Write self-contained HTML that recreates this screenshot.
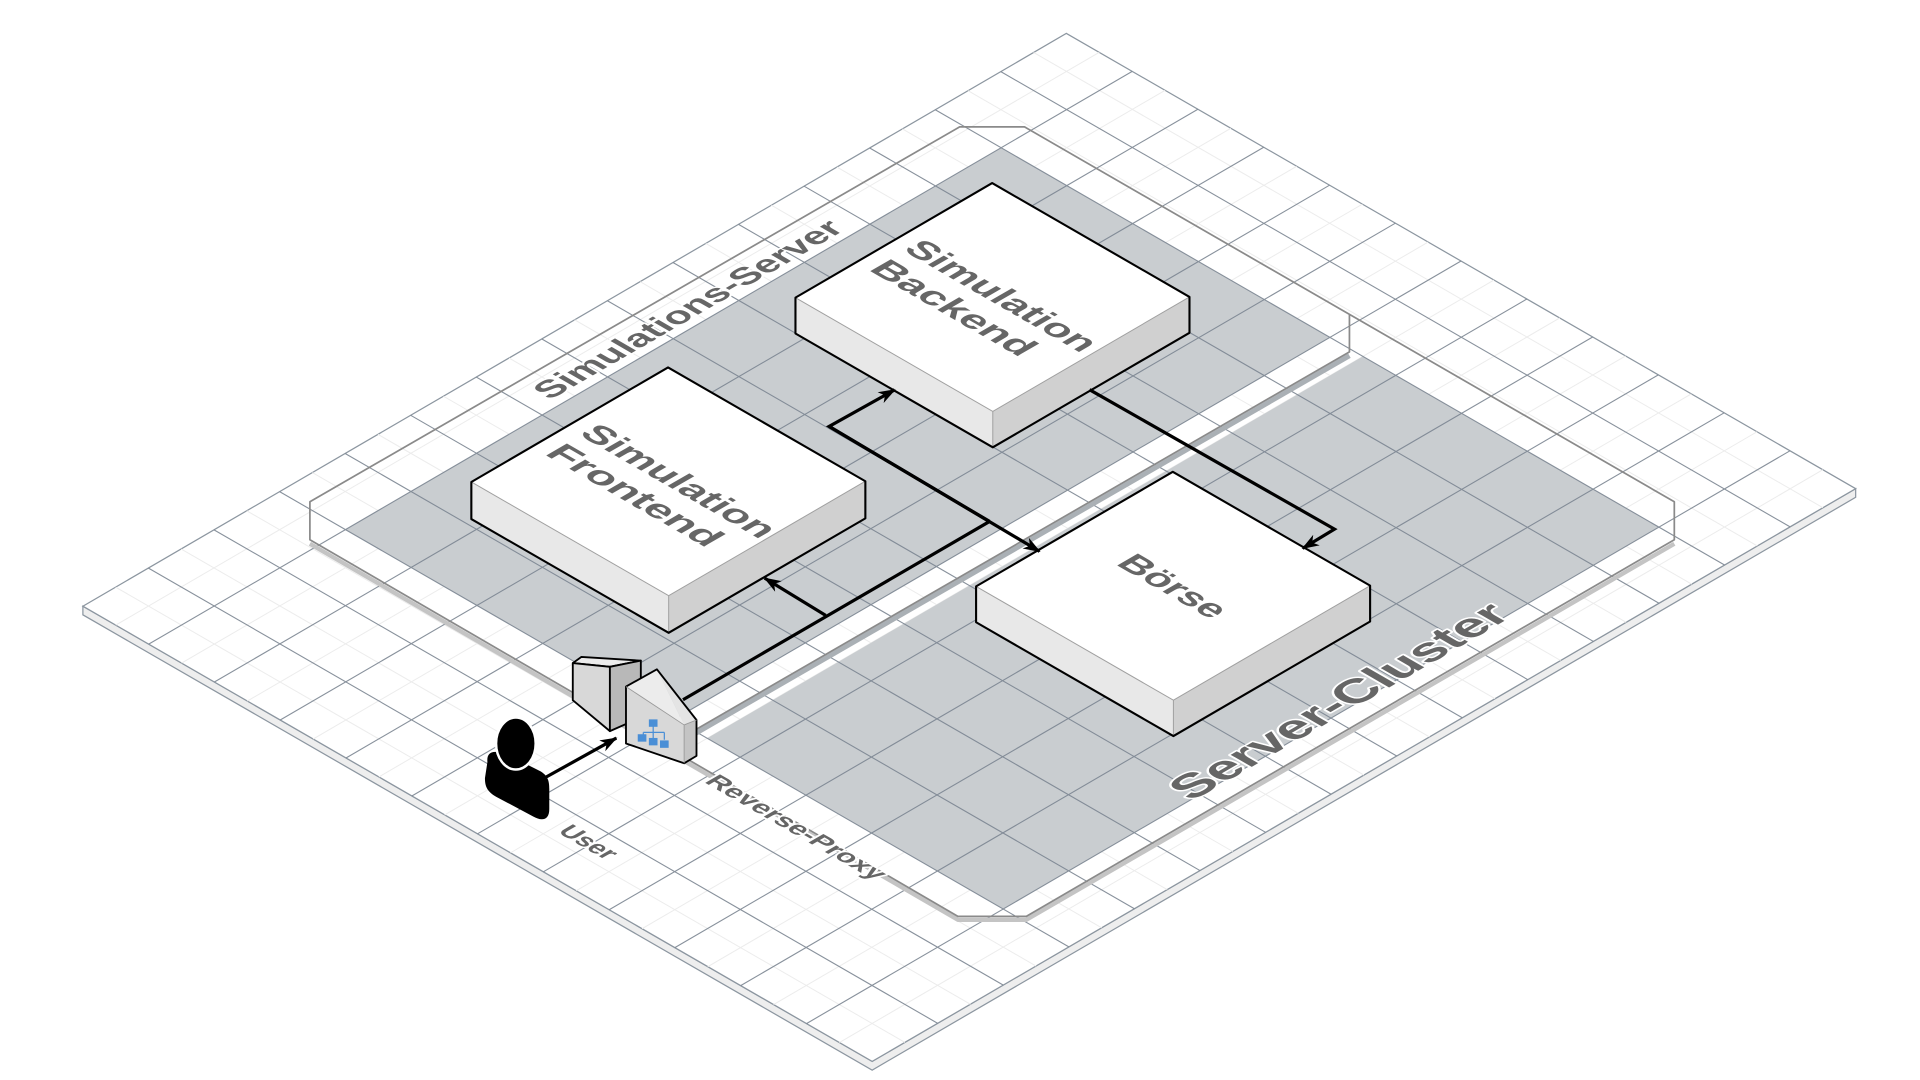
<!DOCTYPE html>
<html><head><meta charset="utf-8"><style>html,body{margin:0;padding:0;background:#fff;overflow:hidden}svg{display:block}
.t{font-family:"Liberation Sans",sans-serif;font-weight:bold;fill:#666;paint-order:stroke;stroke:#fff;stroke-width:3px;stroke-linejoin:round}
.tb{font-family:"Liberation Sans",sans-serif;font-weight:bold;fill:#666}
</style></head><body>
<svg width="1920" height="1080" viewBox="0 0 1552 873" preserveAspectRatio="none" xmlns="http://www.w3.org/2000/svg">
<defs>
<marker id="ah" viewBox="0 0 14 10" refX="13" refY="5" markerWidth="14" markerHeight="10" markerUnits="userSpaceOnUse" orient="auto">
<path d="M0,0 L14,5 L0,10 L4,5 Z" fill="#000"/></marker>
</defs>
<!-- platform -->
<polygon points="67,490 67,497 705,865 1500,402 1500,395 705,858" fill="#eeeeee" stroke="#8c96a0" stroke-width="1"/>
<polygon points="862,27 1500,395 705,858 67,490" fill="#ffffff" stroke="#8c96a0" stroke-width="1"/>
<!-- minor grid -->
<g stroke="#ececec" stroke-width="0.8" fill="none">
<path d="M888.6,42.3 l-795,463 M941.8,73 l-795,463 M994.9,103.7 l-795,463 M1048.1,134.4 l-795,463 M1101.3,165 l-795,463 M1154.4,195.7 l-795,463 M1207.6,226.4 l-795,463 M1260.8,257 l-795,463 M1314,287.7 l-795,463 M1367.1,318.4 l-795,463 M1420.3,349 l-795,463 M1473.5,379.7 l-795,463"/>
<path d="M835.5,42.4 l638,368 M782.5,73.3 l638,368 M729.5,104.2 l638,368 M676.5,135 l638,368 M623.5,165.9 l638,368 M570.5,196.8 l638,368 M517.5,227.7 l638,368 M464.5,258.5 l638,368 M411.5,289.4 l638,368 M358.5,320.3 l638,368 M305.5,351.1 l638,368 M252.5,382 l638,368 M199.5,412.9 l638,368 M146.5,443.8 l638,368 M93.5,474.6 l638,368"/>
</g>
<!-- gray floors -->
<polygon points="809.2,119.4 1075,272.8 545,581.5 279.2,428.1" fill="#c9cdd0"/>
<polygon points="1101.6,288.1 1340.9,426.1 810.9,734.8 571.6,596.8" fill="#c9cdd0"/>
<!-- major grid -->
<g stroke="#7c8692" stroke-width="0.9" fill="none" opacity="0.9">
<path d="M915.2,57.7 l-795,463 M968.3,88.3 l-795,463 M1021.5,119 l-795,463 M1074.7,149.7 l-795,463 M1127.9,180.4 l-795,463 M1181,211 l-795,463 M1234.2,241.7 l-795,463 M1287.4,272.4 l-795,463 M1340.5,303 l-795,463 M1393.7,333.7 l-795,463 M1446.9,364.4 l-795,463"/>
<path d="M809,57.9 l638,368 M756,88.7 l638,368 M703,119.6 l638,368 M650,150.5 l638,368 M597,181.4 l638,368 M544,212.2 l638,368 M491,243.1 l638,368 M438,274 l638,368 M385,304.8 l638,368 M332,335.7 l638,368 M279,366.6 l638,368 M226,397.4 l638,368 M173,428.3 l638,368 M120,459.2 l638,368"/>
</g>
<!-- cluster / server outlines -->
<g fill="none" stroke-linejoin="round">
<path d="M250.5,439.5 L774.3,743.5 L829.6,743.5 L1353.4,439.5" stroke="#c4c4c4" stroke-width="3.5"/>
<path d="M1090.8,287.5 L538.6,606.5" stroke="#aab0b5" stroke-width="4"/>
<path d="M250.5,405.6 L775.7,102.6 L828.2,102.6 L1353.4,405.6 L1353.4,436.3 L829.6,740.7 L774.3,740.7 L250.5,436.3 Z" stroke="#8a8a8a" stroke-width="1.4"/>
<path d="M1090.8,254.5 L1090.8,284.4 L538.6,603.5" stroke="#8a8a8a" stroke-width="1.4"/>
</g>
<!-- Backend cube -->
<g>
<polygon points="643,240.6 802.5,332.6 802.5,361.6 643,269.6" fill="#e8e8e8"/>
<polygon points="802.5,332.6 961.5,240 961.5,269 802.5,361.6" fill="#d0d0d0"/>
<polygon points="802,148 961.5,240 802.5,332.6 643,240.6" fill="#fff"/>
<path d="M643,240.6 L802.5,332.6 L961.5,240 M802.5,332.6 V361.6" stroke="#a0a0a0" stroke-width="0.8" fill="none"/>
<path d="M643,240.6 L802,148 L961.5,240 L961.5,269 L802.5,361.6 L643,269.6 Z" stroke="#000" stroke-width="1.7" fill="none" stroke-linejoin="round"/>
</g>
<!-- Frontend cube -->
<g>
<polygon points="381,389.6 540.5,481.5 540.5,511.5 381,419.6" fill="#e8e8e8"/>
<polygon points="540.5,481.5 699.5,389 699.5,419 540.5,511.5" fill="#d0d0d0"/>
<polygon points="540,297 699.5,389 540.5,481.5 381,389.6" fill="#fff"/>
<path d="M381,389.6 L540.5,481.5 L699.5,389 M540.5,481.5 V511.5" stroke="#a0a0a0" stroke-width="0.8" fill="none"/>
<path d="M381,389.6 L540,297 L699.5,389 L699.5,419 L540.5,511.5 L381,419.6 Z" stroke="#000" stroke-width="1.7" fill="none" stroke-linejoin="round"/>
</g>
<!-- Boerse cube -->
<g>
<polygon points="789,474 948.5,566 948.5,595 789,503" fill="#e8e8e8"/>
<polygon points="948.5,566 1107.5,473.4 1107.5,502.4 948.5,595" fill="#d0d0d0"/>
<polygon points="948,381.4 1107.5,473.4 948.5,566 789,474" fill="#fff"/>
<path d="M789,474 L948.5,566 L1107.5,473.4 M948.5,566 V595" stroke="#a0a0a0" stroke-width="0.8" fill="none"/>
<path d="M789,474 L948,381.4 L1107.5,473.4 L1107.5,502.4 L948.5,595 L789,503 Z" stroke="#000" stroke-width="1.7" fill="none" stroke-linejoin="round"/>
</g>
<!-- connectors -->
<g stroke="#000" stroke-width="2.6" fill="none" stroke-linejoin="miter">
<path d="M552.1,565.6 L799.9,421.5"/>
<path d="M799.9,421.5 L670.2,344.7 L723.2,315.1" marker-end="url(#ah)"/>
<path d="M670.2,344.7 L840.3,445.7" marker-end="url(#ah)"/>
<path d="M667.4,497.4 L618.1,467.3" marker-end="url(#ah)"/>
<path d="M880.7,315 L1078.7,427.7 L1053,443.3" marker-end="url(#ah)"/>
<path d="M437.7,630.2 L498.2,596.6" marker-end="url(#ah)"/>
</g>
<!-- proxy icons -->
<g stroke="#000" stroke-width="1.5" stroke-linejoin="round">
<polygon points="463,536 470,531 518,534 493,539" fill="#ececec"/>
<polygon points="463,536 493,539 493,591 463,566" fill="#d8d8d8"/>
<polygon points="493,539 518,534 518,580 493,591" fill="#b8b8b8"/>
<polygon points="506,555 531,541 553,586" fill="#ececec" stroke="none"/>
<polygon points="531,541 563,582 553,586" fill="#e4e4e4" stroke="none"/>
<polygon points="506,555 553,586 553,617 506,601" fill="#d8d8d8" stroke="none"/>
<polygon points="553,586 563,582 563,611 553,617" fill="#c4c4c4" stroke="none"/>
<path d="M506,555 L531,541 L563,582 L563,611 L553,617 L506,601 Z" fill="none"/>
<path d="M506,555 L553,586 L563,582 M553,586 V617" fill="none" stroke="#999" stroke-width="0.7"/>
</g>
<g fill="#4a8fd6" stroke="#4a8fd6" stroke-width="1">
<rect x="525" y="582" width="6" height="5"/>
<path d="M528,587 V592 M520,592 H537 M520,592 V595 M528,592 V597 M537,592 V598" fill="none"/>
<rect x="516" y="594" width="6" height="5"/>
<rect x="525" y="597" width="6" height="5"/>
<rect x="534" y="599" width="6" height="5"/>
</g>
<!-- user -->
<g fill="#000">
<path d="M394,616 C393,606 401,606 412,611 L434,622 C443,626 444,631 444,638 L444,654 C444,663 438,664 431,660 L401,644 C394,640 392,636 392,629 Z"/>
<ellipse cx="417" cy="601" rx="16" ry="21" stroke="#fff" stroke-width="2"/>
</g>
<!-- labels -->
<text class="t" font-size="27" text-anchor="middle" textLength="276" lengthAdjust="spacingAndGlyphs" transform="matrix(0.866,-0.5,0.866,0.5,564,254.5)">Simulations-Server</text>
<text class="t" font-size="37" text-anchor="middle" textLength="300" lengthAdjust="spacingAndGlyphs" transform="matrix(0.866,-0.5,0.866,0.5,1093,573)">Server-Cluster</text>
<text class="t" font-size="20" text-anchor="middle" textLength="46" lengthAdjust="spacingAndGlyphs" transform="matrix(0.866,0.5,-0.866,0.5,470,684)">User</text>
<text class="t" font-size="20" text-anchor="middle" textLength="160" lengthAdjust="spacingAndGlyphs" transform="matrix(0.866,0.5,-0.866,0.5,638,672)">Reverse-Proxy</text>
<g transform="matrix(0.866,0.5,-0.866,0.5,802,240)">
<text class="tb" font-size="28" x="-80" y="4" textLength="167" lengthAdjust="spacingAndGlyphs">Simulation</text>
<text class="tb" font-size="28" x="-80" y="36" textLength="142" lengthAdjust="spacingAndGlyphs">Backend</text>
</g>
<g transform="matrix(0.866,0.5,-0.866,0.5,540,389)">
<text class="tb" font-size="28" x="-80" y="4" textLength="170" lengthAdjust="spacingAndGlyphs">Simulation</text>
<text class="tb" font-size="28" x="-80" y="36" textLength="152" lengthAdjust="spacingAndGlyphs">Frontend</text>
</g>
<g transform="matrix(0.866,0.5,-0.866,0.5,948,474)">
<text class="tb" font-size="28" x="0" y="9" text-anchor="middle" textLength="90" lengthAdjust="spacingAndGlyphs">Börse</text>
</g>
</svg>
</body></html>
